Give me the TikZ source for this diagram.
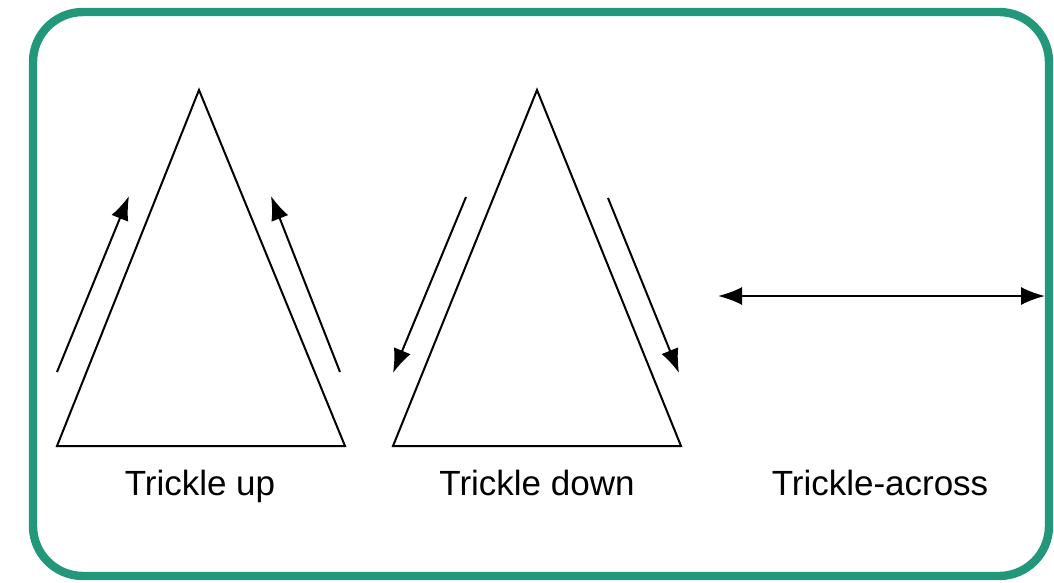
\documentclass[tikz,border=0pt]{standalone}
\usepackage{fontspec}
\setmainfont{Liberation Sans}
\usetikzlibrary{arrows.meta}
\definecolor{frame}{HTML}{23977A}

\begin{document}
\begin{tikzpicture}[
  x=0.5pt, y=-0.5pt,
  tri/.style={draw, line width=1pt, line join=miter},
  arr/.style={-{Latex[length=12pt, width=9pt]}, line width=1pt},
  dbl/.style={{Latex[length=12pt, width=9pt]}-{Latex[length=12pt, width=9pt]}, line width=1pt},
  lbl/.style={anchor=base, font=\fontsize{17.5}{20}\selectfont}
]
  \useasboundingbox (0,0) rectangle (1054,583);
  % Frame
  \draw[frame, line width=4.2pt, rounded corners=25pt] (33,12) rectangle (1049,576);
  % Trickle up
  \draw[tri] (199,90) -- (345,446) -- (57,446) -- cycle;
  \coordinate (ua1) at (57,372);  \coordinate (ua2) at (129,196);
  \coordinate (ub1) at (340,372); \coordinate (ub2) at (271,196);
  \draw[arr] (ua1) -- (ua2);
  \draw[arr] (ub1) -- (ub2);
  \node[lbl] (up) at (200,495) {Trickle up};
  % Trickle down
  \draw[tri] (537,90) -- (681,446) -- (393,446) -- cycle;
  \coordinate (da1) at (466,197); \coordinate (da2) at (393,373);
  \coordinate (db1) at (608,198); \coordinate (db2) at (679,373);
  \draw[arr] (da1) -- (da2);
  \draw[arr] (db1) -- (db2);
  \node[lbl] (down) at (537,495) {Trickle down};
  % Trickle across
  \coordinate (aa1) at (718,296); \coordinate (aa2) at (1045,296);
  \draw[dbl] (aa1) -- (aa2);
  \node[lbl] (across) at (880,495) {Trickle-across};
\end{tikzpicture}
\end{document}
